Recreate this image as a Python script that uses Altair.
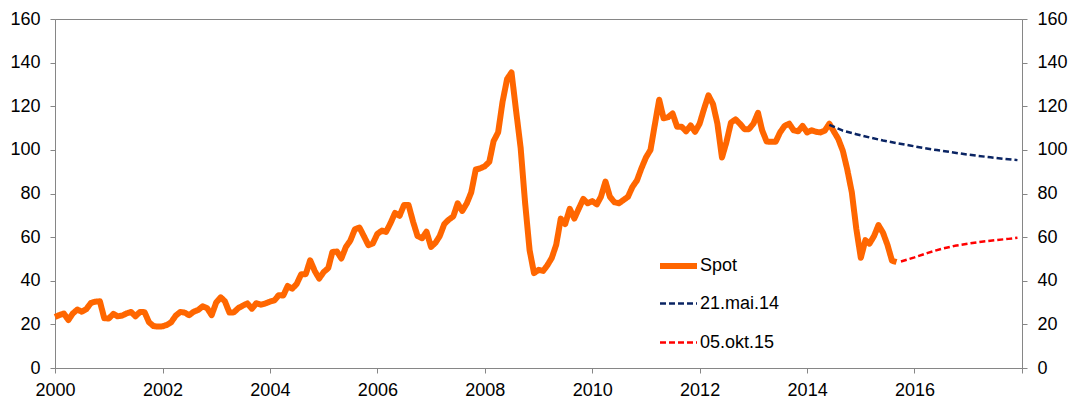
import altair as alt
import pandas as pd

# Spot price, monthly (USD per barrel), Jan 2000 - Sep 2015
spot_2000 = [23.4, 24.3, 25.0, 22.0, 25.0, 26.8, 25.8, 27.0, 29.8, 30.4, 30.6, 22.8]
spot_2001 = [22.7, 24.8, 23.7, 24.0, 25.0, 25.7, 23.7, 25.7, 25.6, 21.0, 19.2, 19.0]
spot_2002 = [19.1, 19.8, 21.0, 24.0, 25.7, 25.4, 24.2, 25.8, 26.6, 28.3, 27.4, 24.2]
spot_2003 = [30.0, 32.4, 30.6, 25.4, 25.5, 27.5, 28.6, 29.6, 27.2, 29.7, 29.0, 29.6]
spot_2004 = [30.4, 31.0, 33.4, 33.2, 37.6, 36.4, 38.5, 43.0, 43.0, 49.4, 44.5, 41.0]
spot_2005 = [44.0, 45.8, 53.2, 53.4, 50.2, 55.5, 58.4, 63.6, 64.4, 60.5, 56.3, 57.1]
spot_2006 = [61.5, 63.0, 62.4, 66.5, 71.1, 69.8, 74.7, 74.7, 67.0, 60.5, 59.5, 62.5]
spot_2007 = [55.5, 57.5, 60.5, 66.0, 68.0, 69.5, 75.5, 72.0, 75.5, 80.5, 91.0, 91.5]
spot_2008 = [92.5, 94.5, 104.0, 108.0, 122.0, 132.5, 135.5, 118.0, 101.0, 76.0, 54.0, 43.5]
spot_2009 = [45.0, 44.5, 47.0, 50.5, 56.5, 68.5, 66.0, 73.0, 68.5, 73.0, 77.5, 75.5]
spot_2010 = [76.5, 75.0, 78.5, 85.5, 78.5, 76.0, 75.5, 77.0, 78.5, 83.0, 86.0, 91.5]
spot_2011 = [96.5, 100.0, 111.0, 123.0, 114.5, 115.0, 116.7, 110.6, 110.6, 108.5, 111.2, 108.3]
spot_2012 = [112.0, 119.0, 125.0, 121.0, 112.0, 96.5, 103.5, 112.5, 114.0, 112.0, 109.5, 109.5]
spot_2013 = [112.0, 117.0, 109.0, 103.8, 103.7, 103.7, 108.0, 111.0, 112.0, 109.0, 108.5, 111.0]
spot_2014 = [108.0, 109.0, 108.3, 108.0, 108.8, 112.0, 108.5, 105.0, 99.5, 91.0, 80.5, 64.0]
spot_2015 = [50.5, 58.6, 57.0, 60.5, 65.5, 62.0, 56.5, 49.2, 48.6]

# Futures curve 21 May 2014
fut14_months = ["2014-06", "2014-09", "2014-12", "2015-03", "2015-06", "2015-09", "2015-12",
                "2016-03", "2016-06", "2016-09", "2016-12", "2017-03", "2017-06", "2017-09", "2017-12"]
fut14_values = [111.5, 108.8, 107.2, 105.7, 104.3, 103.1, 102.0,
                100.9, 99.9, 99.0, 98.1, 97.3, 96.6, 95.9, 95.3]

# Futures curve 05 Oct 2015
fut15_months = ["2015-10", "2016-01", "2016-04", "2016-07", "2016-10", "2017-01", "2017-04",
                "2017-07", "2017-10", "2017-12"]
fut15_values = [48.8, 50.7, 52.8, 54.6, 56.0, 57.0, 57.9, 58.6, 59.2, 59.7]

series_names = ["Spot", "21.mai.14", "05.okt.15"]
series_colors = ["#FF6600", "#0A2463", "#FF0000"]
series_widths = [6, 2.5, 2.5]
x_tick_years = [2000, 2002, 2004, 2006, 2008, 2010, 2012, 2014, 2016, 2018]
y_ticks = [0, 20, 40, 60, 80, 100, 120, 140, 160]

spot_values = (spot_2000 + spot_2001 + spot_2002 + spot_2003 + spot_2004 + spot_2005 +
               spot_2006 + spot_2007 + spot_2008 + spot_2009 + spot_2010 + spot_2011 +
               spot_2012 + spot_2013 + spot_2014 + spot_2015)
spot_dates = pd.date_range("2000-01-01", periods=len(spot_values), freq="MS").strftime("%Y-%m-%d")

df = pd.concat([
    pd.DataFrame({"date": list(spot_dates), "value": spot_values, "series": "Spot", "order": range(len(spot_values))}),
    pd.DataFrame({"date": [m + "-01" for m in fut14_months], "value": fut14_values, "series": "21.mai.14",
                  "order": range(len(fut14_values))}),
    pd.DataFrame({"date": [m + "-01" for m in fut15_months], "value": fut15_values, "series": "05.okt.15",
                  "order": range(len(fut15_values))}),
], ignore_index=True)

FONT = "Liberation Sans"
AXIS_GREY = "#868686"

x_enc = alt.X(
    "date:T",
    scale=alt.Scale(type="utc", domain=[alt.DateTime(year=2000, month=1, date=1, utc=True),
                                        alt.DateTime(year=2018, month=1, date=1, utc=True)]),
    axis=alt.Axis(
        title=None,
        values=[alt.DateTime(year=y, month=1, date=1, utc=True) for y in x_tick_years],
        format="%Y",
        labelExpr="utcyear(datum.value) >= 2018 ? '' : datum.label",
        labelPadding=8,
        labelFlush=False,
        labelOverlap=False,
    ),
)
y_scale = alt.Scale(domain=[0, 160], nice=False, zero=True)

lines = alt.Chart(df).mark_line(strokeJoin="round", strokeCap="butt").encode(
    x=x_enc,
    y=alt.Y("value:Q", scale=y_scale,
            axis=alt.Axis(title=None, values=y_ticks, orient="left", labelPadding=10)),
    color=alt.Color("series:N", scale=alt.Scale(domain=series_names, range=series_colors),
                    legend=alt.Legend(title=None, orient="none", legendX=602, legendY=225.5,
                                      symbolType="stroke", symbolSize=1369, labelFontSize=18,
                                      labelFont=FONT, labelColor="#000000", labelOffset=0,
                                      rowPadding=5, padding=0, gridAlign="all")),
    strokeDash=alt.StrokeDash("series:N",
                              scale=alt.Scale(domain=series_names, range=[[1, 0], [6, 3], [6, 3]])),
    strokeWidth=alt.StrokeWidth("series:N",
                                scale=alt.Scale(type="ordinal", domain=series_names, range=series_widths)),
    order="order:Q",
)

right_axis = alt.Chart(df).mark_line(opacity=0).encode(
    x=x_enc,
    y=alt.Y("value:Q", scale=y_scale,
            axis=alt.Axis(title=None, values=y_ticks, orient="right", labelPadding=10)),
    detail="series:N",
)

chart = alt.layer(lines, right_axis).resolve_axis(y="independent").properties(
    width=967, height=349,
    autosize=alt.AutoSizeParams(type="none"),
    padding={"left": 47, "top": 11, "right": 48, "bottom": 34},
).configure_view(
    stroke=AXIS_GREY, strokeWidth=1
).configure_axis(
    grid=False, domainColor=AXIS_GREY, tickColor=AXIS_GREY, tickSize=5,
    labelFont=FONT, labelFontSize=18, labelColor="#000000",
)

chart.save("out.html", embed_options={"renderer": "svg", "actions": False})
